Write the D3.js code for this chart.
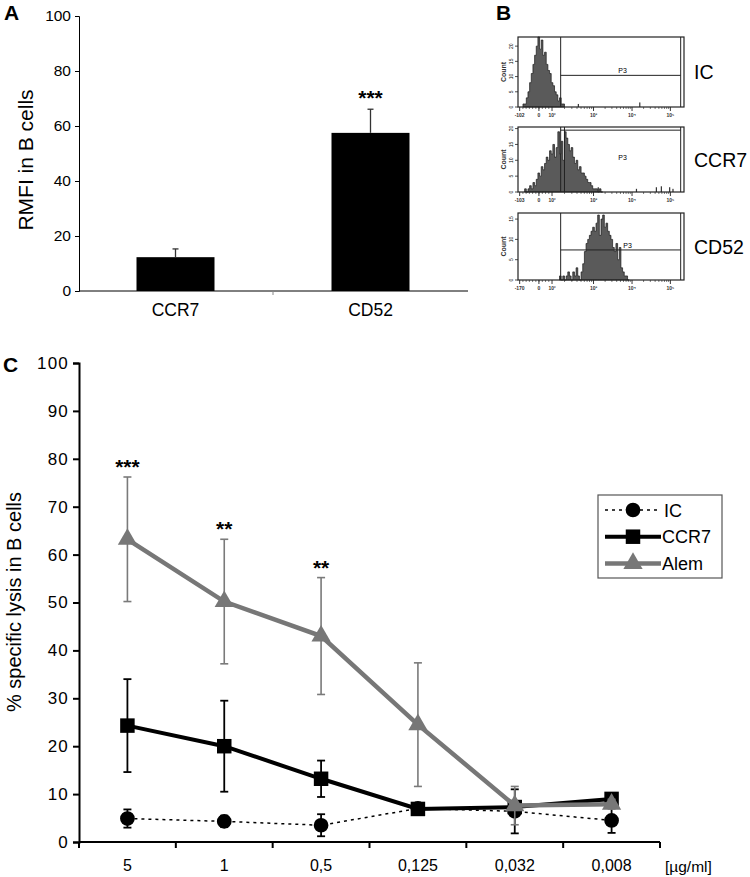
<!DOCTYPE html>
<html><head><meta charset="utf-8">
<script src="https://cdn.jsdelivr.net/npm/d3@7"></script>
<style>body{margin:0;background:#fff}svg{font-family:"Liberation Sans",Arial,sans-serif}</style>
</head><body><svg width="750" height="877"></svg>
<script>
// ---------- Panel A data ----------
const aCategories = ["CCR7", "CD52"];
const aValues = [12.3, 57.5];
const aErrors = [3.0, 8.6];
const aSig = ["", "***"];
const aTicks = [0, 20, 40, 60, 80, 100];

// ---------- Panel B data (flow cytometry histograms, bins 0..100) ----------
const bLabels = ["IC", "CCR7", "CD52"];
const icStart = 3;
const icCounts = [1,1,3,5,8,11,14,17,20,23,19,22,17,18,14,12,11,8,7,5,4,2,3,1,1];
const icSpikes = [[36,1],[73,1.5]];
const ccr7Start = 4;
const ccr7Counts = [1,0,1,2,1,3,2,4,6,5,8,7,9,11,10,13,12,15,11,14,19,12,16,10,19,17,15,13,14,11,9,10,7,8,6,6,5,4,3,3,2,1,1,1,0,1,0];
const ccr7Spikes = [[48,1.5],[71,1],[83,1.5],[86,1.8],[91,1.5],[93,1]];
const cd52Start = 25;
const cd52Counts = [1,0,1,0,1,2,1,0,2,1,3,1,0,2,4,7,9,10,11,12,13,12,14,16,11,15,16,13,14,12,11,10,8,7,9,5,8,3,2,1,1,0];
const cd52Spikes = [];
const bCountMax = [23, 20.5, 16.5];
const bCountTicks = [[0,5,10,15,20],[0,5,10,15,20],[0,5,10,15]];
const bNegLabels = ["-102", "-103", "-170"];
const bGateCount = [10.4, 19.5, 7.4];

// ---------- Panel C data ----------
const cCategories = ["5", "1", "0,5", "0,125", "0,032", "0,008"];
const icValues   = [4.9, 4.3, 3.5, 7.0, 6.4, 4.5];
const icErr      = [1.9, 1.2, 2.3, 0.8, 4.6, 2.6];
const ccr7Values = [24.3, 20.0, 13.2, 6.9, 7.3, 9.0];
const ccr7Err    = [9.7, 9.5, 3.8, 0.8, 1.0, 1.2];
const alemValues = [63.2, 50.2, 43.0, 24.5, 7.6, 7.9];
const alemErr    = [13.0, 13.0, 12.2, 12.9, 4.0, 1.0];
const cSig = ["***", "**", "**", "", "", ""];
const cTicks = [0,10,20,30,40,50,60,70,80,90,100];
const seriesNames = ["IC", "CCR7", "Alem"];

const svg = d3.select("svg");
const GRAY = "#777";

// ================= Panel A =================
const gA = svg.append("g");
gA.append("text").attr("x", 4).attr("y", 20).attr("font-size", 21).attr("font-weight", "bold").text("A");
const xA = d3.scaleBand().domain(aCategories).range([78, 468]).paddingInner(0.6).paddingOuter(0.3);
const yA = d3.scaleLinear().domain([0, 100]).range([291, 16]);
const axA = gA.append("g").attr("transform", "translate(79,0)")
  .call(d3.axisLeft(yA).tickValues(aTicks).tickSize(4).tickPadding(4));
axA.selectAll("text").attr("font-size", 15.5).attr("fill", "#000");
axA.select(".domain").attr("stroke-width", 1);
gA.append("line").attr("x1", 79).attr("x2", 468).attr("y1", 291).attr("y2", 291).attr("stroke", "#000");
const midA = (xA("CCR7") + xA.bandwidth() + xA("CD52")) / 2;
gA.append("line").attr("x1", midA).attr("x2", midA).attr("y1", 291).attr("y2", 295).attr("stroke", "#888");
gA.selectAll(".bar").data(aCategories).join("rect")
  .attr("x", d => xA(d)).attr("width", xA.bandwidth())
  .attr("y", (d, i) => yA(aValues[i])).attr("height", (d, i) => yA(0) - yA(aValues[i]))
  .attr("fill", "#000");
aCategories.forEach((c, i) => {
  const cx = xA(c) + xA.bandwidth() / 2;
  gA.append("line").attr("x1", cx).attr("x2", cx).attr("y1", yA(aValues[i])).attr("y2", yA(aValues[i] + aErrors[i])).attr("stroke", "#333").attr("stroke-width", 1.3);
  gA.append("line").attr("x1", cx - 3).attr("x2", cx + 3).attr("y1", yA(aValues[i] + aErrors[i])).attr("y2", yA(aValues[i] + aErrors[i])).attr("stroke", "#333").attr("stroke-width", 1.3);
  gA.append("text").attr("x", cx).attr("y", 316).attr("text-anchor", "middle").attr("font-size", 17.5).text(c);
  if (aSig[i]) gA.append("text").attr("x", cx).attr("y", yA(aValues[i] + aErrors[i]) - 4).attr("text-anchor", "middle").attr("font-size", 21).attr("font-weight", "bold").text(aSig[i]);
});
gA.append("text").attr("transform", "translate(33,160) rotate(-90)").attr("text-anchor", "middle").attr("font-size", 21).text("RMFI in B cells");

// ================= Panel B =================
svg.append("text").attr("x", 496).attr("y", 20).attr("font-size", 21).attr("font-weight", "bold").text("B");
const bBoxes = [{y0: 37, y1: 107}, {y0: 127, y1: 192}, {y0: 213, y1: 280}];
const bData = [
  {start: icStart, counts: icCounts, spikes: icSpikes},
  {start: ccr7Start, counts: ccr7Counts, spikes: ccr7Spikes},
  {start: cd52Start, counts: cd52Counts, spikes: cd52Spikes}
];
const xB = d3.scaleLinear().domain([0, 100]).range([518, 684]);
const decadePos = {2: 20.5, 3: 45.5, 4: 68.7, 5: 91.8};
bBoxes.forEach((box, k) => {
  const g = svg.append("g");
  const yB = d3.scaleLinear().domain([0, bCountMax[k]]).range([box.y1, box.y0]);
  const d = bData[k];
  const pts = [];
  d.counts.forEach((c, j) => { pts.push([d.start + j, c]); pts.push([d.start + j + 1, c]); });
  const area = d3.area().x(p => xB(p[0])).y0(yB(0)).y1(p => yB(p[1]));
  g.append("path").datum(pts).attr("d", area).attr("fill", "#5a5a5a").attr("stroke", "#1a1a1a").attr("stroke-width", 0.7);
  d.spikes.forEach(s => {
    g.append("rect").attr("x", xB(s[0])).attr("width", 1.2).attr("y", yB(s[1])).attr("height", yB(0) - yB(s[1])).attr("fill", "#333");
  });
  g.append("line").attr("x1", xB(25.7)).attr("x2", xB(25.7)).attr("y1", box.y0).attr("y2", box.y1).attr("stroke", "#222").attr("stroke-width", 1);
  if (k === 1) g.append("line").attr("x1", xB(28)).attr("x2", xB(28)).attr("y1", box.y0).attr("y2", box.y1).attr("stroke", "#222").attr("stroke-width", 1);
  g.append("line").attr("x1", xB(98)).attr("x2", xB(98)).attr("y1", box.y0).attr("y2", box.y1).attr("stroke", "#222").attr("stroke-width", 1);
  g.append("line").attr("x1", xB(25.7)).attr("x2", xB(98)).attr("y1", yB(bGateCount[k])).attr("y2", yB(bGateCount[k])).attr("stroke", "#222").attr("stroke-width", 1);
  const p3y = k === 1 ? (box.y0 + box.y1) / 2 : yB(bGateCount[k]) - 2;
  g.append("text").attr("x", k === 2 ? xB(66) : xB(63)).attr("y", p3y).attr("text-anchor", "middle").attr("font-size", 7).text("P3");
  g.append("rect").attr("x", xB(0)).attr("y", box.y0).attr("width", xB(100) - xB(0)).attr("height", box.y1 - box.y0).attr("fill", "none").attr("stroke", "#222").attr("stroke-width", 1.2);
  bCountTicks[k].forEach(t => {
    g.append("line").attr("x1", xB(0) - 3).attr("x2", xB(0)).attr("y1", yB(t)).attr("y2", yB(t)).attr("stroke", "#222").attr("stroke-width", 0.8);
    g.append("text").attr("transform", `translate(${xB(0) - 5},${yB(t)}) rotate(-90)`).attr("text-anchor", "middle").attr("font-size", 5).text(t);
  });
  g.append("text").attr("transform", `translate(${xB(0) - 12},${(box.y0 + box.y1) / 2}) rotate(-90)`).attr("text-anchor", "middle").attr("font-size", 7).attr("font-weight", "bold").attr("fill", "#333").text("Count");
  const minor = [];
  for (let dcd = 2; dcd < 5; dcd++) for (let m = 2; m < 10; m++) minor.push(decadePos[dcd] + (decadePos[dcd + 1] - decadePos[dcd]) * Math.log10(m));
  for (let m = 1; m < 10; m++) minor.push(1 + (decadePos[2] - 1) * m / 10);
  minor.forEach(v => g.append("line").attr("x1", xB(v)).attr("x2", xB(v)).attr("y1", box.y1).attr("y2", box.y1 + 2).attr("stroke", "#222").attr("stroke-width", 0.6));
  [1, 12.6, 20.5, 45.5, 68.7, 91.8].forEach(v => g.append("line").attr("x1", xB(v)).attr("x2", xB(v)).attr("y1", box.y1).attr("y2", box.y1 + 4).attr("stroke", "#222").attr("stroke-width", 0.9));
  const lab = [[1, bNegLabels[k]], [12.6, "0"], [20.5, "10²"], [45.5, "10³"], [68.7, "10⁴"], [91.8, "10⁵"]];
  lab.forEach(l => g.append("text").attr("x", xB(l[0])).attr("y", box.y1 + 10).attr("text-anchor", "middle").attr("font-size", 5).attr("font-weight", "bold").attr("fill", "#333").text(l[1]));
  g.append("text").attr("x", 694).attr("y", (box.y0 + box.y1) / 2 + 7).attr("font-size", 19.5).text(bLabels[k]);
});

// ================= Panel C =================
const gC = svg.append("g");
gC.append("text").attr("x", 3).attr("y", 372).attr("font-size", 21).attr("font-weight", "bold").text("C");
const xC = d3.scaleBand().domain(cCategories).range([79, 660]);
const yC = d3.scaleLinear().domain([0, 100]).range([842, 363]);
const axCY = gC.append("g").attr("transform", "translate(79,0)")
  .call(d3.axisLeft(yC).tickValues(cTicks).tickSize(6).tickPadding(4));
axCY.selectAll("text").attr("font-size", 17).attr("letter-spacing", 1.2).attr("fill", "#000");
axCY.selectAll("line,path").attr("stroke-width", 2);
const axCX = gC.append("g").attr("transform", "translate(0,842)")
  .call(d3.axisBottom(xC).tickSize(0).tickPadding(18));
axCX.select(".domain").attr("stroke-width", 2).attr("d", "M79,0H660");
axCX.selectAll("text").attr("font-size", 16).attr("fill", "#000");
[...cCategories.map(c => xC(c)), xC.range()[1]].forEach(x => {
  gC.append("line").attr("x1", x).attr("x2", x).attr("y1", 842).attr("y2", 848).attr("stroke", "#000").attr("stroke-width", 2);
});
gC.append("text").attr("x", 665).attr("y", 872).attr("font-size", 15.5).text("[µg/ml]");
gC.append("text").attr("transform", "translate(21,602) rotate(-90)").attr("text-anchor", "middle").attr("font-size", 20).text("% specific lysis in B cells");

const cx = c => xC(c) + xC.bandwidth() / 2;
const series = [
  {name: "IC", values: icValues, err: icErr, color: "#000", errColor: "#000", width: 1.5, dash: "3,4", marker: "circle"},
  {name: "CCR7", values: ccr7Values, err: ccr7Err, color: "#000", errColor: "#000", width: 4, dash: null, marker: "square"},
  {name: "Alem", values: alemValues, err: alemErr, color: GRAY, errColor: "#7a7a7a", width: 4.5, dash: null, marker: "triangle"}
];
const symbolPath = {
  circle: d3.symbol().type(d3.symbolCircle).size(170)(),
  square: d3.symbol().type(d3.symbolSquare).size(210)(),
  triangle: d3.symbol().type(d3.symbolTriangle).size(160)()
};
series.forEach(s => {
  const g = gC.append("g");
  cCategories.forEach((c, i) => {
    const x = cx(c), lo = yC(s.values[i] - s.err[i]), hi = yC(s.values[i] + s.err[i]);
    const sw = s.name === "Alem" ? 1.6 : 1.8;
    g.append("line").attr("x1", x).attr("x2", x).attr("y1", lo).attr("y2", hi).attr("stroke", s.errColor).attr("stroke-width", sw);
    [lo, hi].forEach(y => g.append("line").attr("x1", x - 4).attr("x2", x + 4).attr("y1", y).attr("y2", y).attr("stroke", s.errColor).attr("stroke-width", sw));
  });
  const line = d3.line().x((v, i) => cx(cCategories[i])).y(v => yC(v));
  g.append("path").datum(s.values).attr("d", line).attr("fill", "none").attr("stroke", s.color)
    .attr("stroke-width", s.width).attr("stroke-dasharray", s.dash);
  s.values.forEach((v, i) => {
    g.append("path").attr("d", symbolPath[s.marker]).attr("transform", `translate(${cx(cCategories[i])},${yC(v)})`).attr("fill", s.color);
  });
});
cCategories.forEach((c, i) => {
  if (cSig[i]) gC.append("text").attr("x", cx(c)).attr("y", yC(alemValues[i] + alemErr[i]) - 3).attr("text-anchor", "middle").attr("font-size", 21).attr("font-weight", "bold").text(cSig[i]);
});

// legend
const lg = gC.append("g");
lg.append("rect").attr("x", 598).attr("y", 495).attr("width", 124).attr("height", 83).attr("fill", "#fff").attr("stroke", "#555").attr("stroke-width", 1.2);
series.forEach((s, i) => {
  const y = 510 + i * 26.7;
  lg.append("line").attr("x1", 605).attr("x2", 661).attr("y1", y).attr("y2", y).attr("stroke", s.color).attr("stroke-width", s.width).attr("stroke-dasharray", s.dash);
  lg.append("path").attr("d", symbolPath[s.marker]).attr("transform", `translate(633,${y})`).attr("fill", s.color);
  lg.append("text").attr("x", s.name === "IC" ? 664 : 662).attr("y", y + 6.5).attr("font-size", 18).text(seriesNames[i]);
});
</script></body></html>
